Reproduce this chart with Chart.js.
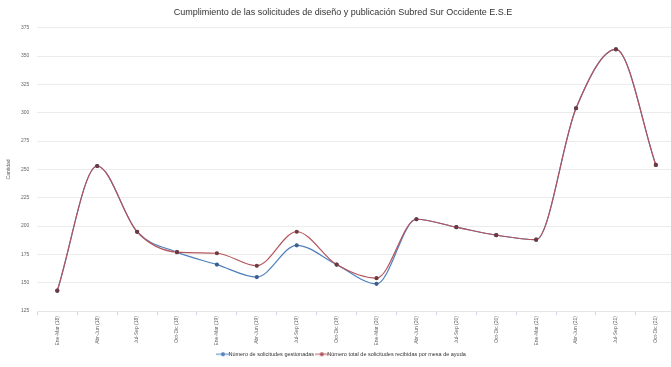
<!DOCTYPE html>
<html>
<head>
<meta charset="utf-8">
<script src="https://cdn.jsdelivr.net/npm/chart.js@4/dist/chart.umd.min.js"></script>
<style>
  html, body { margin: 0; padding: 0; background: #fff; overflow: hidden; }
  #wrap { width: 681px; height: 367px; }
</style>
</head>
<body>
<div id="wrap"><canvas id="c" width="681" height="367"></canvas></div>
<script>
// Trimestres reportados
const categories = [
  'Ene-Mar (18)', 'Abr-Jun (18)', 'Jul-Sep (18)', 'Oct-Dic (18)',
  'Ene-Mar (19)', 'Abr-Jun (19)', 'Jul-Sep (19)', 'Oct-Dic (19)',
  'Ene-Mar (20)', 'Abr-Jun (20)', 'Jul-Sep (20)', 'Oct-Dic (20)',
  'Ene-Mar (21)', 'Abr-Jun (21)', 'Jul-Sep (21)', 'Oct-Dic (21)'
];

// Solicitudes gestionadas por trimestre
const gestionadas = [143, 253, 195, 177, 166, 155, 183, 166, 149, 206, 199, 192, 188, 304, 356, 254];

// Total de solicitudes recibidas por mesa de ayuda
const recibidas = [143, 253, 195, 177, 176, 165, 195, 166, 154, 206, 199, 192, 188, 304, 356, 254];

const yMin = 125, yMax = 375, yStep = 25;

const FONT = "'Liberation Sans', Arial, sans-serif";

// Marcador de leyenda: línea corta con punto al centro
function legendMarker(color) {
  const cv = document.createElement('canvas');
  cv.width = 14; cv.height = 6;
  const g = cv.getContext('2d');
  g.strokeStyle = color; g.lineWidth = 1;
  g.beginPath(); g.moveTo(0, 3); g.lineTo(14, 3); g.stroke();
  g.fillStyle = color;
  g.beginPath(); g.arc(7, 3, 2, 0, Math.PI * 2); g.fill();
  return cv;
}

const blue = '#4f81bd';
const red = '#b5545c';
const markers = [legendMarker(blue), legendMarker(red)];

new Chart(document.getElementById('c'), {
  type: 'line',
  data: {
    labels: categories,
    datasets: [
      {
        label: 'Número de solicitudes gestionadas',
        data: gestionadas,
        borderColor: blue,
        backgroundColor: '#3a5f8f',
        pointBackgroundColor: '#3a5f8f',
        pointBorderColor: '#3a5f8f',
        borderWidth: 1.2,
        pointRadius: 1.5,
        cubicInterpolationMode: 'monotone',
        order: 2
      },
      {
        label: 'Número total de solicitudes recibidas por mesa de ayuda',
        data: recibidas,
        borderColor: red,
        backgroundColor: '#6e3a40',
        pointBackgroundColor: '#6e3a40',
        pointBorderColor: '#6e3a40',
        borderWidth: 1.2,
        pointRadius: 1.5,
        cubicInterpolationMode: 'monotone',
        order: 1
      }
    ]
  },
  options: {
    responsive: false,
    animation: false,
    devicePixelRatio: 1,
    layout: { padding: { left: 5, right: 0, top: 4, bottom: 0 } },
    plugins: {
      title: {
        display: true,
        text: 'Cumplimiento de las solicitudes de diseño y publicación Subred Sur Occidente E.S.E',
        color: '#333',
        font: { family: FONT, size: 9, weight: 'normal' },
        padding: { top: 3, bottom: 10 }
      },
      legend: {
        position: 'bottom',
        labels: {
          usePointStyle: true,
          color: '#333',
          font: { family: FONT, size: 5.5 },
          padding: 5,
          sort: (a, b) => a.datasetIndex - b.datasetIndex,
          generateLabels: (chart) => chart.data.datasets.map((ds, i) => ({
            text: ds.label,
            fillStyle: ds.borderColor,
            strokeStyle: ds.borderColor,
            lineWidth: 0,
            pointStyle: markers[i],
            hidden: false,
            datasetIndex: i,
            fontColor: '#333'
          }))
        }
      },
      tooltip: { enabled: false }
    },
    scales: {
      x: {
        offset: true,
        grid: {
          display: true,
          drawOnChartArea: false,
          drawTicks: true,
          tickLength: 4,
          color: '#ccd6eb',
          offset: true
        },
        border: { display: true, color: '#e6e6e6' },
        ticks: {
          color: '#666',
          font: { family: FONT, size: 5 },
          minRotation: 90,
          maxRotation: 90,
          autoSkip: false,
          padding: 1
        }
      },
      y: {
        min: yMin,
        max: yMax,
        grid: { color: '#ececec', drawTicks: false },
        border: { display: false },
        ticks: {
          stepSize: yStep,
          color: '#666',
          font: { family: FONT, size: 5 },
          padding: 8
        },
        title: {
          display: true,
          text: 'Cantidad',
          color: '#666',
          font: { family: FONT, size: 5 },
          padding: 1
        }
      }
    }
  }
});
</script>
</body>
</html>
